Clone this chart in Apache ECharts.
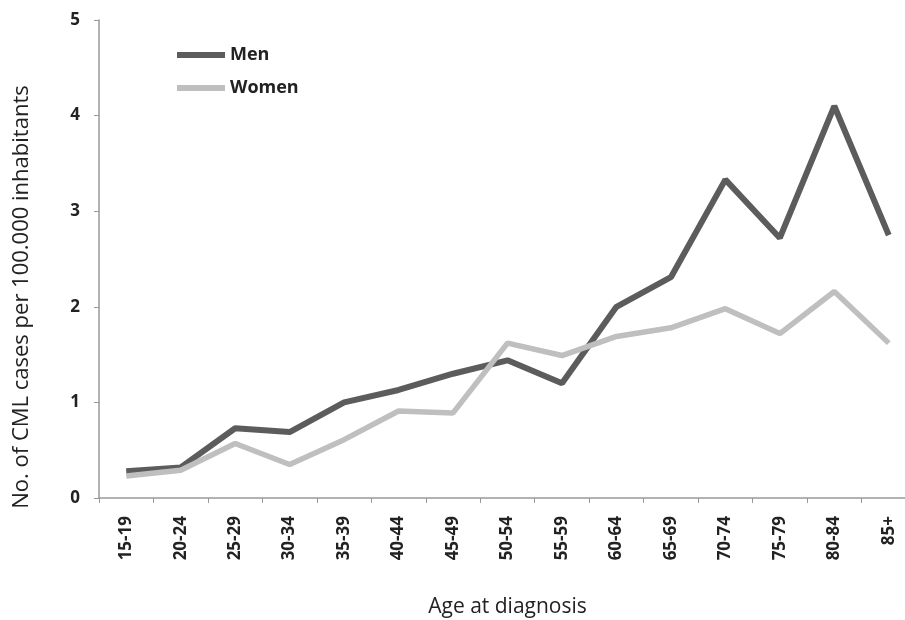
<!DOCTYPE html>
<html>
<head>
<meta charset="utf-8">
<script src="https://cdn.jsdelivr.net/npm/echarts@6/dist/echarts.min.js"></script>
<style>
html, body { margin: 0; padding: 0; background: #fff; }
#main { width: 905px; height: 620px; }
</style>
</head>
<body>
<div id="main"></div>
<script>
var ageGroups = ['15-19', '20-24', '25-29', '30-34', '35-39', '40-44', '45-49', '50-54',
                 '55-59', '60-64', '65-69', '70-74', '75-79', '80-84', '85+'];
var men = [0.28, 0.32, 0.73, 0.69, 1.0, 1.13, 1.3, 1.44, 1.2, 2.0, 2.31, 3.33, 2.72, 4.1, 2.75];
var women = [0.23, 0.29, 0.57, 0.35, 0.61, 0.91, 0.89, 1.62, 1.49, 1.69, 1.78, 1.98, 1.72, 2.16, 1.62];

var chart = echarts.init(document.getElementById('main'));
var font = 'Open Sans';

var option = {
  animation: false,
  grid: { left: 99, top: 20, width: 817, height: 478, outerBoundsMode: 'none', containLabel: false },
  legend: {
    orient: 'vertical',
    left: 172,
    top: 41,
    itemWidth: 48,
    itemHeight: 6,
    itemGap: 15,
    icon: 'rect',
    textStyle: { fontFamily: font, fontSize: 18, fontWeight: 'bold', color: '#222' },
    data: ['Men', 'Women']
  },
  xAxis: {
    type: 'category',
    data: ageGroups,
    name: 'Age at diagnosis',
    nameLocation: 'middle',
    nameGap: 99,
    nameTextStyle: { fontFamily: font, fontSize: 21, color: '#222' },
    axisLine: { lineStyle: { color: '#999', width: 1.5 } },
    axisTick: { show: true, length: 5, lineStyle: { color: '#999' } },
    axisLabel: {
      rotate: 90,
      margin: 18,
      fontFamily: font, fontSize: 17, fontWeight: 'bold', color: '#222'
    }
  },
  yAxis: {
    type: 'value',
    min: 0, max: 5, interval: 1,
    name: 'No. of CML cases per 100.000 inhabitants',
    nameLocation: 'middle',
    nameGap: 66,
    nameTextStyle: { fontFamily: font, fontSize: 22, color: '#222', padding: [0, 76, 0, 0] },
    axisLine: { show: true, lineStyle: { color: '#999', width: 1.5 } },
    axisTick: { show: true, length: 5, lineStyle: { color: '#999' } },
    splitLine: { show: false },
    axisLabel: { margin: 19, fontFamily: font, fontSize: 17, fontWeight: 'bold', color: '#222' }
  },
  series: [
    {
      name: 'Men', type: 'line', data: men,
      symbol: 'none',
      lineStyle: { color: '#5c5c5c', width: 6 },
      itemStyle: { color: '#5c5c5c' }
    },
    {
      name: 'Women', type: 'line', data: women,
      symbol: 'none',
      lineStyle: { color: '#bfbfbf', width: 5.5 },
      itemStyle: { color: '#bfbfbf' }
    }
  ]
};
chart.setOption(option);
</script>
</body>
</html>
